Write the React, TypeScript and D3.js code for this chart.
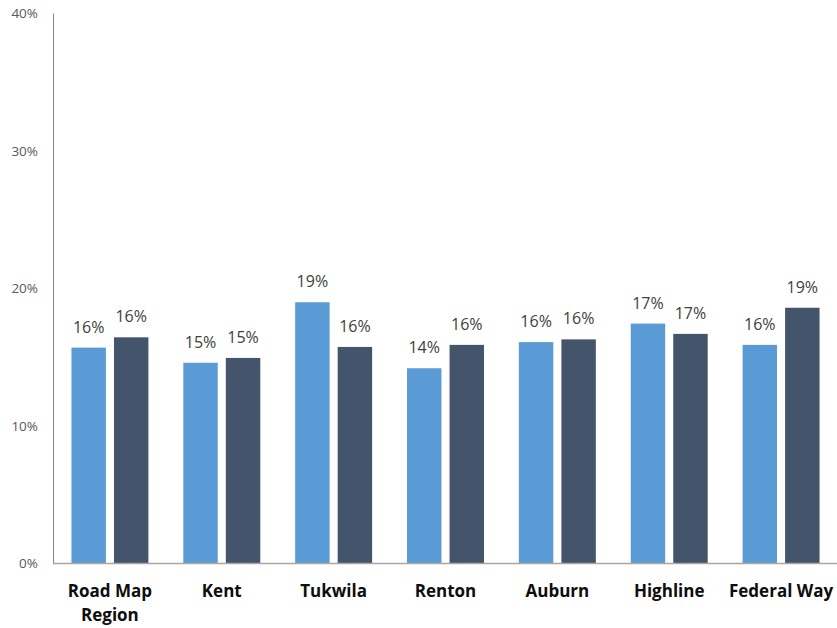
import React from "react";
import * as d3 from "d3";

const categories = ["Road Map Region", "Kent", "Tukwila", "Renton", "Auburn", "Highline", "Federal Way"];
const categoryLines = [["Road Map", "Region"], ["Kent"], ["Tukwila"], ["Renton"], ["Auburn"], ["Highline"], ["Federal Way"]];
const seriesA = [15.7, 14.6, 19.0, 14.2, 16.1, 17.45, 15.9];
const seriesB = [16.45, 14.95, 15.75, 15.9, 16.3, 16.7, 18.6];
const yTicks = [0, 10, 20, 30, 40];

const W = 837;
const H = 628;
const COLORS = ["#5B9BD5", "#44546A"];
const FONT = "'Open Sans', sans-serif";

export default function App() {
  const x0 = d3.scaleBand<string>().domain(categories).range([54, 837]).paddingInner(0.312).paddingOuter(0.156);
  const x1 = d3.scaleBand<string>().domain(["a", "b"]).range([0, x0.bandwidth()]).paddingInner(0.19).paddingOuter(0);
  const y = d3.scaleLinear().domain([0, 40]).range([563.5, 13.5]);
  const series = [seriesA, seriesB];
  const keys = ["a", "b"];

  return (
    <svg width={W} height={H} style={{ position: "fixed", left: 0, top: 0, background: "#fff" }}>
      {/* y axis */}
      <line x1={53.5} x2={53.5} y1={y(40)} y2={y(0)} stroke="#868686" strokeWidth={1} />
      {yTicks.map((t) => (
        <text key={t} x={38} y={y(t)} dy="0.35em" textAnchor="end" fontFamily={FONT} fontSize={13.5} fill="#595959">
          {t}%
        </text>
      ))}
      {/* bars */}
      {categories.map((c, i) => (
        <g key={c} transform={`translate(${x0(c)},0)`}>
          {series.map((s, j) => {
            const v = s[i];
            const bx = x1(keys[j]) as number;
            return (
              <g key={j}>
                <rect x={bx} y={y(v)} width={x1.bandwidth()} height={y(0) - y(v)} fill={COLORS[j]} />
                <text x={bx + x1.bandwidth() / 2} y={y(v) - 15} textAnchor="middle" fontFamily={FONT} fontSize={16} fill="#404040">
                  {d3.format(".0f")(v)}%
                </text>
              </g>
            );
          })}
        </g>
      ))}
      {/* x axis baseline */}
      <line x1={53} x2={837} y1={y(0)} y2={y(0)} stroke="#A6A6A6" strokeWidth={1.5} />
      {categories.map((c, i) => (
        <text key={c} textAnchor="middle" fontFamily={FONT} fontSize={17} fontWeight={700} fill="#0D0D0D">
          {categoryLines[i].map((ln, k) => (
            <tspan key={k} x={(x0(c) as number) + x0.bandwidth() / 2} y={597 + k * 24}>
              {ln}
            </tspan>
          ))}
        </text>
      ))}
    </svg>
  );
}
